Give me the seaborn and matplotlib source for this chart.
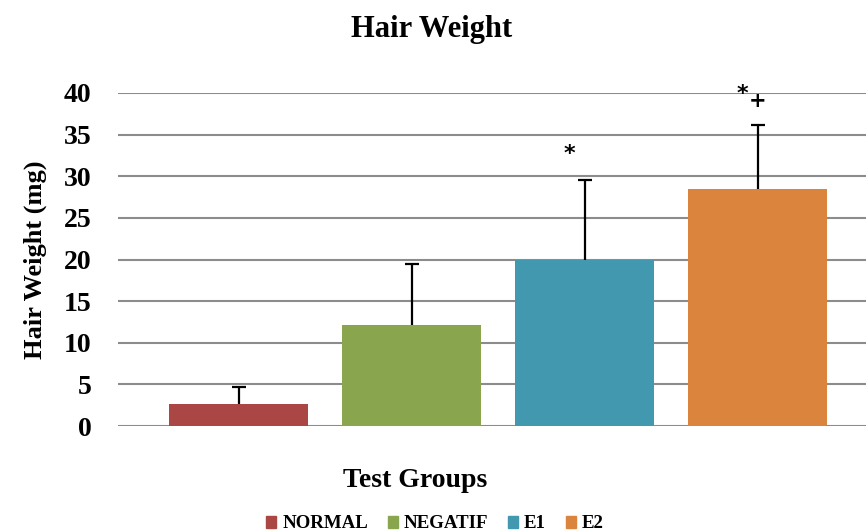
import pandas as pd
import numpy as np
import seaborn as sns
import matplotlib.pyplot as plt
from matplotlib.patches import Patch

groups = ['NORMAL', 'NEGATIF', 'E1', 'E2']
weights = [2.7, 12.1, 20.0, 28.5]
err_up = [2.0, 7.4, 9.5, 7.7]
colors = ['#AA4643', '#89A54E', '#4198AF', '#DB843D']

df = pd.DataFrame({'group': groups, 'weight': weights})

sns.set_style('white')
plt.rcParams['font.family'] = ['Liberation Serif', 'DejaVu Serif']
plt.rcParams['font.weight'] = 'bold'
plt.rcParams['text.color'] = 'black'
plt.rcParams['axes.labelcolor'] = 'black'
plt.rcParams['ytick.color'] = 'black'

fig = plt.figure(figsize=(8.66, 5.32), dpi=100)
ax = fig.add_axes([118 / 866, (532 - 426) / 532, 748 / 866, 333 / 532])

sns.barplot(data=df, x='group', y='weight', hue='group', palette=colors,
            dodge=False, width=0.8, errorbar=None, legend=False, saturation=1,
            linewidth=0, ax=ax, zorder=2)

# upper error bars only
xs = np.arange(len(groups))
_, caps, _ = ax.errorbar(xs, weights, yerr=[np.zeros(len(groups)), err_up], fmt='none',
                         ecolor='black', elinewidth=1.6, capsize=5, capthick=1.6, zorder=1)
caps[0].remove()

# significance marks
ax.text(2 - 0.085, 32.7, '*', ha='center', va='center', fontsize=16, family='DejaVu Sans')
ax.text(3 - 0.09, 39.9, '*', ha='center', va='center', fontsize=16, family='DejaVu Sans')
ax.text(3.0, 39.0, '+', ha='center', va='center', fontsize=15, family='DejaVu Sans')

ax.set_ylim(0, 40)
ax.set_xlim(-0.697, 3.627)
ax.set_yticks(range(0, 41, 5))
ax.yaxis.grid(True, color='#8c8c8c', linewidth=1.5)
ax.set_axisbelow(True)
for s in ax.spines.values():
    s.set_visible(False)
ax.set_xticks([])
ax.tick_params(axis='y', length=0, labelsize=20, pad=19)
for t in ax.get_yticklabels():
    t.set_fontweight('bold')

ax.set_xlabel('Test Groups', fontsize=20, fontweight='bold')
ax.xaxis.set_label_coords((415 - 118) / 748, -0.125)
ax.set_ylabel('Hair Weight (mg)', fontsize=19, fontweight='bold', labelpad=12)
fig.text(432 / 866, 1 - 30 / 532, 'Hair Weight', ha='center', va='center',
         fontsize=22, fontweight='bold')

handles = [Patch(color=c, label=g) for g, c in zip(groups, colors)]
fig.legend(handles=handles, loc='center', bbox_to_anchor=(435 / 866, 1 - 524 / 532),
           ncol=4, frameon=False, handlelength=0.55, handleheight=0.55,
           handletextpad=0.3, columnspacing=1.05, prop={'size': 13.6, 'weight': 'bold'})

fig.savefig('out.png', dpi=100)
